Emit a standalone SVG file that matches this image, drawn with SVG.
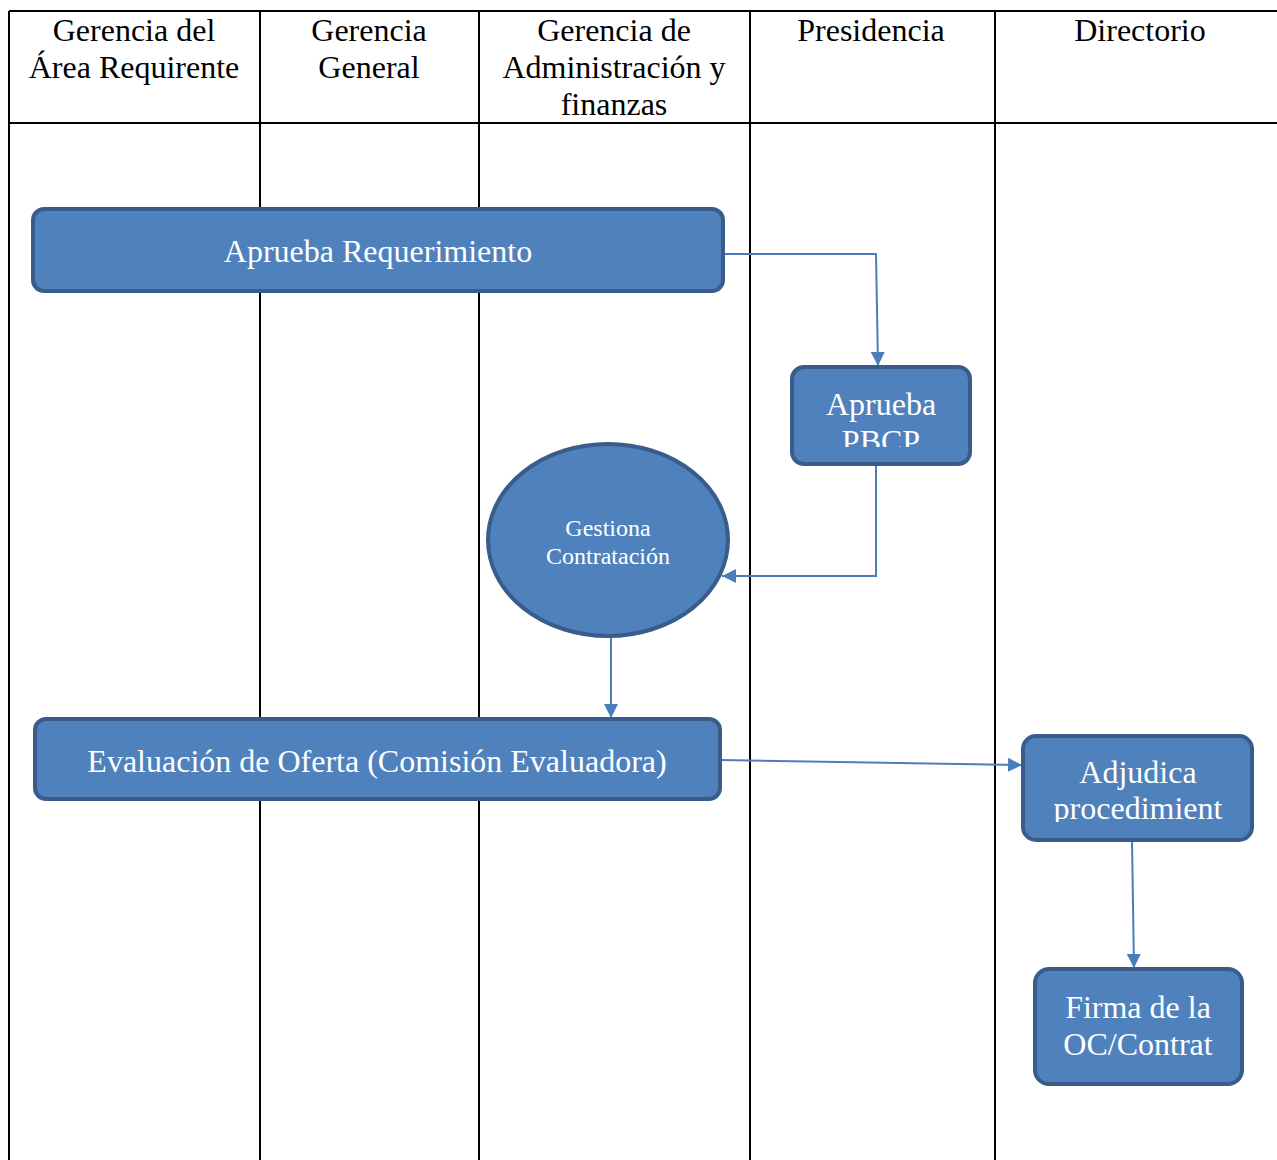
<svg xmlns="http://www.w3.org/2000/svg" width="1277" height="1160" viewBox="0 0 1277 1160">
<style>
.grid{stroke:#000;stroke-width:2;fill:none}
.hdr{font-family:"Liberation Serif","Times New Roman",serif;font-size:32px;fill:#000;text-anchor:middle}
.node{fill:#4F81BD;stroke:#385D8A;stroke-width:4}
.lbl{font-family:"Liberation Serif","Times New Roman",serif;font-size:32px;fill:#fff;text-anchor:middle}
.sm{font-size:24px}
.conn{stroke:#4A7EBB;stroke-width:2;fill:none;marker-end:url(#arr)}
</style>
<defs>
<marker id="arr" viewBox="0 0 10 10" refX="10" refY="5" markerWidth="14" markerHeight="14" markerUnits="userSpaceOnUse" orient="auto">
<path d="M0,0 L10,5 L0,10 z" fill="#4A7EBB"/>
</marker>
<clipPath id="c1"><rect x="792" y="367" width="178" height="80"/></clipPath>
<clipPath id="c2"><rect x="1023" y="736" width="229" height="86"/></clipPath>
</defs>
<g id="table">
<line class="grid" x1="9" y1="11" x2="1277" y2="11"/>
<line class="grid" x1="9" y1="123" x2="1277" y2="123"/>
<line class="grid" x1="9" y1="11" x2="9" y2="1160"/>
<line class="grid" x1="260" y1="11" x2="260" y2="1160"/>
<line class="grid" x1="479" y1="11" x2="479" y2="1160"/>
<line class="grid" x1="750" y1="11" x2="750" y2="1160"/>
<line class="grid" x1="995" y1="11" x2="995" y2="1160"/>
<text class="hdr" x="134" y="41">Gerencia del</text>
<text class="hdr" x="134" y="78">Área Requirente</text>
<text class="hdr" x="369" y="41">Gerencia</text>
<text class="hdr" x="369" y="78">General</text>
<text class="hdr" x="614" y="41">Gerencia de</text>
<text class="hdr" x="614" y="78">Administración y</text>
<text class="hdr" x="614" y="115">finanzas</text>
<text class="hdr" x="871" y="41">Presidencia</text>
<text class="hdr" x="1140" y="41">Directorio</text>
</g>
<g id="connectors">
<polyline class="conn" points="723,254 876,254 878,366"/>
<polyline class="conn" points="876,465 876,576 722,576"/>
<polyline class="conn" points="611,637 611,718"/>
<polyline class="conn" points="721,760 1022,765"/>
<polyline class="conn" points="1132,841 1134,968"/>
</g>
<g id="n1">
<rect class="node" x="33" y="209" width="690" height="82" rx="11"/>
<text class="lbl" x="378" y="262">Aprueba Requerimiento</text>
</g>
<g id="n2">
<rect class="node" x="792" y="367" width="178" height="97" rx="12"/>
<g clip-path="url(#c1)">
<text class="lbl" x="881" y="415">Aprueba</text>
<text class="lbl" x="881" y="452">PBCP</text>
</g>
</g>
<g id="n3">
<ellipse class="node" cx="608" cy="540" rx="120" ry="96"/>
<text class="lbl sm" x="608" y="536">Gestiona</text>
<text class="lbl sm" x="608" y="564">Contratación</text>
</g>
<g id="n4">
<rect class="node" x="35" y="719" width="685" height="80" rx="11"/>
<text class="lbl" x="377" y="772">Evaluación de Oferta (Comisión Evaluadora)</text>
</g>
<g id="n5">
<rect class="node" x="1023" y="736" width="229" height="104" rx="13"/>
<g clip-path="url(#c2)">
<text class="lbl" x="1138" y="783">Adjudica</text>
<text class="lbl" x="1138" y="819">procedimient</text>
</g>
</g>
<g id="n6">
<rect class="node" x="1035" y="969" width="207" height="115" rx="14"/>
<text class="lbl" x="1138" y="1018">Firma de la</text>
<text class="lbl" x="1138" y="1055">OC/Contrat</text>
</g>
</svg>
